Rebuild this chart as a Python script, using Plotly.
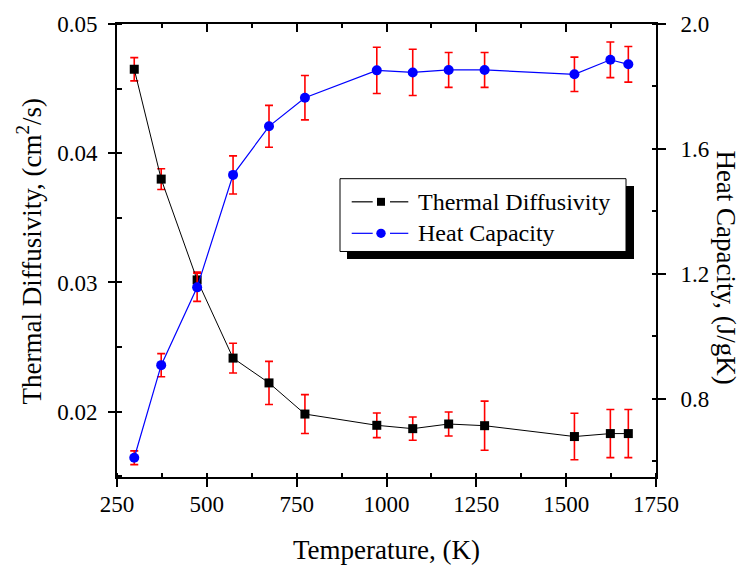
import plotly.graph_objects as go

# ---- data ----
temperature = [298, 373, 473, 573, 673, 773, 973, 1073, 1173, 1273, 1523, 1623, 1673]
diffusivity = [0.0465, 0.0380, 0.0302, 0.02415, 0.02223, 0.01982, 0.01895, 0.01869,
               0.01905, 0.01892, 0.01808, 0.01831, 0.01831]
diffusivity_err = [0.0009, 0.0008, 0.0006, 0.00115, 0.00167, 0.0015, 0.00095, 0.0009,
                   0.00093, 0.0019, 0.0018, 0.00186, 0.00186]
heat_capacity = [0.6115, 0.908, 1.157, 1.517, 1.6725, 1.764, 1.8516, 1.845,
                 1.853, 1.853, 1.839, 1.8855, 1.871]
heat_capacity_err = [0.022, 0.037, 0.045, 0.061, 0.067, 0.071, 0.074, 0.074,
                     0.056, 0.056, 0.055, 0.057, 0.057]

x_ticks = [250, 500, 750, 1000, 1250, 1500, 1750]
series_names = ["Thermal Diffusivity", "Heat Capacity"]

FONT = "Liberation Serif"
W, H = 742, 568
L, R, T, B = 117, 656, 21, 477   # plot area in pixels


def px(xp):
    return (xp - L) / (R - L)


def py(yp):
    return (B - yp) / (B - T)


fig = go.Figure()

fig.add_trace(go.Scatter(
    x=temperature, y=diffusivity, name=series_names[0],
    mode="lines+markers",
    line=dict(color="black", width=1),
    marker=dict(symbol="square", size=9, color="black"),
    error_y=dict(type="data", array=diffusivity_err, color="#ff0000", thickness=1.6, width=4),
    xaxis="x", yaxis="y", showlegend=False,
))
fig.add_trace(go.Scatter(
    x=temperature, y=heat_capacity, name=series_names[1],
    mode="lines+markers",
    line=dict(color="#0000ff", width=1.2),
    marker=dict(symbol="circle", size=10, color="#0000ff"),
    error_y=dict(type="data", array=heat_capacity_err, color="#ff0000", thickness=1.6, width=4),
    xaxis="x2", yaxis="y2", showlegend=False,
))


def tickfont():
    return dict(family=FONT, size=23, color="black")


def axis_common():
    return dict(showgrid=False, zeroline=False, showline=True, linecolor="black",
                linewidth=2, tickcolor="black", tickwidth=1.5)


fig.update_layout(
    width=W, height=H,
    margin=dict(l=L, r=W - R, t=T, b=H - B, pad=0),
    paper_bgcolor="white", plot_bgcolor="white",
    font=dict(family=FONT, size=23, color="black"),
    xaxis=dict(range=[250, 1750.01], tickmode="array", tickvals=x_ticks,
               ticktext=[str(v) for v in x_ticks],
               ticks="outside", ticklen=8, tickfont=tickfont(), ticklabelstandoff=-3,
               minor=dict(ticks="inside", ticklen=4, dtick=125, tick0=250,
                          tickcolor="black", tickwidth=1.5),
               **axis_common()),
    xaxis2=dict(range=[250, 1750.01], overlaying="x", side="top", anchor="y",
                ticks="inside", ticklen=8, dtick=250, tick0=250, showticklabels=False,
                minor=dict(ticks="inside", ticklen=4, dtick=125, tick0=250,
                           tickcolor="black", tickwidth=1.5),
                **axis_common()),
    yaxis=dict(range=[0.01495, 0.050001], tickmode="linear", tick0=0.02, dtick=0.01,
               tickformat=".2f", ticks="outside", ticklen=7, tickfont=tickfont(),
               ticklabelstandoff=6,
               minor=dict(ticks="inside", ticklen=5, dtick=0.005,
                          tickcolor="black", tickwidth=1.5),
               **axis_common()),
    yaxis2=dict(range=[0.55, 2.00001], overlaying="y", side="right", anchor="x2",
                tickmode="linear", tick0=0.8, dtick=0.4, tickformat=".1f",
                ticks="outside", ticklen=8, tickfont=tickfont(), ticklabelstandoff=10,
                minor=dict(ticks="inside", ticklen=4, dtick=0.2,
                           tickcolor="black", tickwidth=1.5),
                **axis_common()),
)

# axis titles
title_font = dict(family=FONT, size=27, color="black")
fig.add_annotation(text="Temperature, (K)", xref="paper", yref="paper",
                   x=px(386), y=py(550), showarrow=False, font=title_font,
                   xanchor="center", yanchor="middle")
fig.add_annotation(text="Thermal Diffusivity, (cm<sup>2</sup>/s)", xref="paper", yref="paper",
                   x=px(30), y=py(250), showarrow=False, font=title_font, textangle=-90,
                   xanchor="center", yanchor="middle")
fig.add_annotation(text="Heat Capacity, (J/gK)", xref="paper", yref="paper",
                   x=px(726), y=py(266), showarrow=False, font=title_font, textangle=90,
                   xanchor="center", yanchor="middle")

# legend drawn by hand (box with drop shadow)
fig.add_shape(type="rect", xref="paper", yref="paper",
              x0=px(347), x1=px(634), y0=py(257.5), y1=py(184),
              fillcolor="black", line=dict(width=0), layer="above")
fig.add_shape(type="rect", xref="paper", yref="paper",
              x0=px(340), x1=px(626), y0=py(250), y1=py(176.7),
              fillcolor="white", line=dict(color="black", width=1), layer="above")

legend_rows = [
    (200, "black", "square", series_names[0]),
    (231.7, "#0000ff", "circle", series_names[1]),
]
for yrow, col, sym, name in legend_rows:
    for xa, xb in [(351.7, 372.7), (390, 408.3)]:
        fig.add_shape(type="line", xref="paper", yref="paper",
                      x0=px(xa), x1=px(xb), y0=py(yrow), y1=py(yrow),
                      line=dict(color=col, width=1.2), layer="above")
    if sym == "square":
        fig.add_shape(type="rect", xref="paper", yref="paper",
                      x0=px(381 - 4), x1=px(381 + 4), y0=py(yrow + 4), y1=py(yrow - 4),
                      fillcolor=col, line=dict(width=0), layer="above")
    else:
        fig.add_shape(type="circle", xref="paper", yref="paper",
                      x0=px(381 - 4.7), x1=px(381 + 4.7), y0=py(yrow + 4.7), y1=py(yrow - 4.7),
                      fillcolor=col, line=dict(width=0), layer="above")
    fig.add_annotation(text=name, xref="paper", yref="paper", x=px(416), y=py(yrow),
                       showarrow=False, xanchor="left", yanchor="middle",
                       font=dict(family=FONT, size=24, color="black"))

fig.write_html("out.html", config={"displayModeBar": False},
               post_script="document.body.style.margin='0';")
